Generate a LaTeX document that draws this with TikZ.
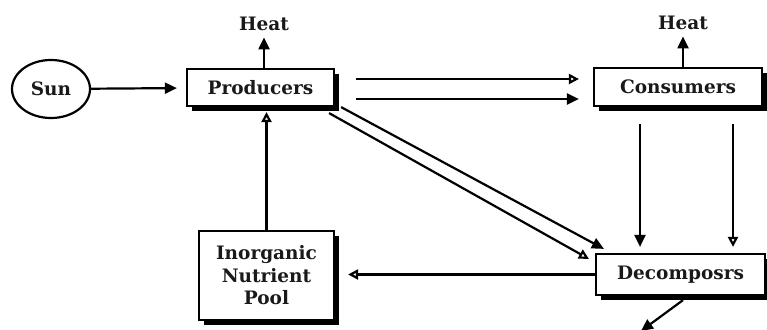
\documentclass[tikz,border=0pt]{standalone}
\usepackage{fontspec}
\setmainfont{DejaVu Serif}
\usetikzlibrary{arrows.meta,shapes.geometric,shadows}
\begin{document}
\begin{tikzpicture}[x=1pt,y=-1pt,
  txt/.style={font=\fontsize{18.5}{22.5}\selectfont\bfseries, text=black!90},
  box/.style={txt, draw=black, line width=2.2pt, fill=white, rectangle, inner sep=0pt,
    drop shadow={shadow xshift=5pt, shadow yshift=-5pt, fill=black, opacity=1}},
  flow/.style={line width=2.2pt, -{Triangle[length=12pt,width=11pt]}},
  oflow/.style={line width=2.2pt, -{Triangle[open,length=10pt,width=10pt,line width=2.2pt]}}
]
\useasboundingbox (0,0) rectangle (767,329);

% compartments
\node[txt, draw=black, line width=2.2pt, ellipse, minimum width=78pt, minimum height=58pt, inner sep=0pt] (sun) at (51,89) {Sun};
\node[box, minimum width=147pt, minimum height=37pt] (prod) at (260.5,87.5) {Producers};
\node[box, minimum width=168pt, minimum height=38pt] (cons) at (678,87) {Consumers};
\node[box, minimum width=169pt, minimum height=41pt] (decomp) at (680.5,274.5) {Decomposrs};
\node[box, minimum width=135pt, minimum height=89pt, align=center] (pool) at (266.5,275.5) {Inorganic\\Nutrient\\Pool};

% heat losses
\node[txt] (heatP) at (264,24) {Heat};
\node[txt] (heatC) at (683,23) {Heat};
\coordinate (sink) at (641,331);

% energy and matter flows
\draw[flow, shorten >=9pt] (sun) -- (prod);
\draw[flow] (prod.north -| heatP) -- ([yshift=-3pt]heatP.south);
\draw[flow] (cons.north -| heatC) -- ([yshift=-3pt]heatC.south);

\draw[oflow] ([shift={(21,-8.5)}]prod.east) -- ([shift={(-14,-8)}]cons.west);
\draw[flow]  ([shift={(21,11.5)}]prod.east) -- ([shift={(-14,12)}]cons.west);

\draw[flow]  ([shift={(-38,17)}]cons.south) -- ([shift={(-40.5,-6)}]decomp.north);
\draw[oflow] ([shift={(55,17)}]cons.south) -- ([shift={(52.5,-6)}]decomp.north);

\draw[flow]  ([shift={(6,0)}]prod.south east) -- ([shift={(9,-4)}]decomp.north west);
\draw[oflow] ([shift={(-6,6)}]prod.south east) -- ([shift={(-6,6)}]decomp.north west);

\draw[oflow, shorten >=13pt] (decomp.west) -- (decomp.west -| pool.east);
\draw[oflow, shorten >=5pt] (pool.north) -- (pool.north |- prod.south);

\draw[flow] ([shift={(2.5,4)}]decomp.south) -- (sink);
\end{tikzpicture}
\end{document}
